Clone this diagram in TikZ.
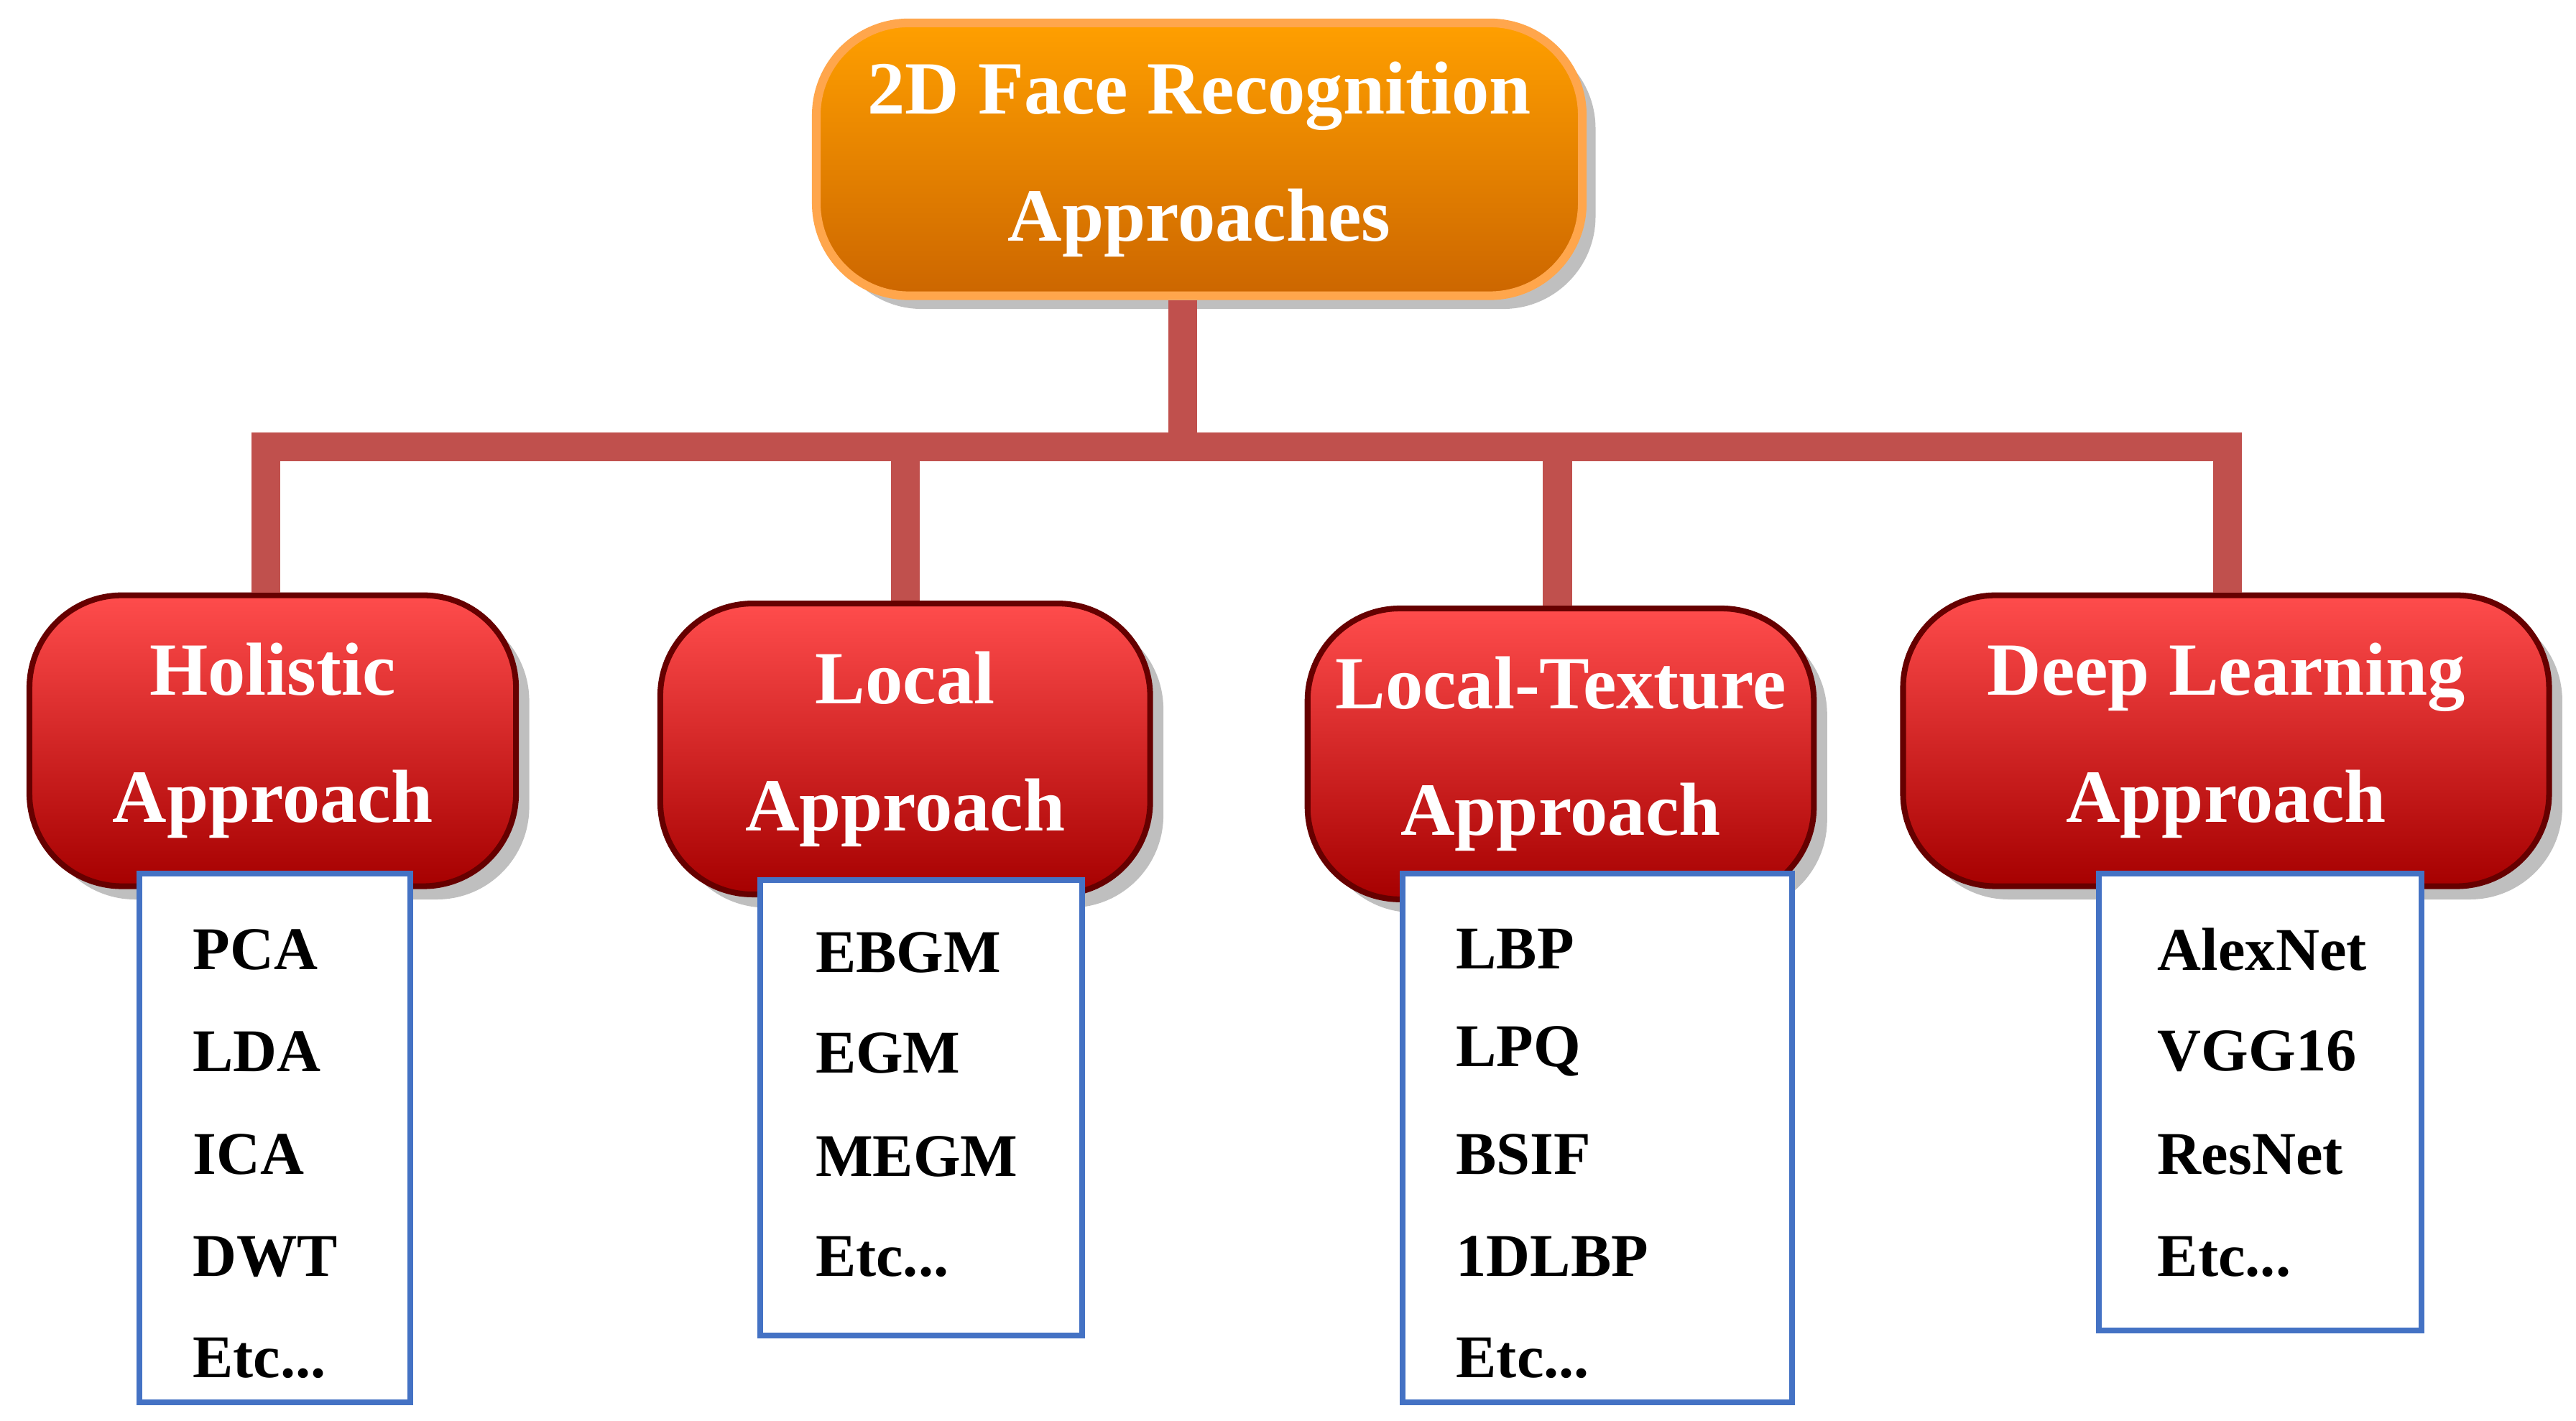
\documentclass[tikz,border=0pt]{standalone}
\usepackage{fontspec}
\setmainfont{Liberation Serif}
\usetikzlibrary{shadows}
\definecolor{barred}{RGB}{192,80,77}
\definecolor{listblue}{RGB}{68,114,196}
\begin{document}
\begin{tikzpicture}[x=0.01cm,y=-0.01cm,font=\bfseries]
\tikzstyle{root}=[draw=orange!70!white,line width=1.5pt,rounded corners=16pt,top color=orange!75!yellow,bottom color=orange!80!black,text=white,align=center,font=\bfseries\fontsize{13}{22}\selectfont,drop shadow]
\tikzstyle{branch}=[draw=red!40!black,line width=1pt,rounded corners=16pt,top color=red!70!white,bottom color=red!65!black,text=white,align=center,font=\bfseries\fontsize{13}{22}\selectfont,drop shadow]
\tikzstyle{list}=[draw=listblue,line width=1pt,fill=white,anchor=north west]
\tikzstyle{item}=[anchor=west,font=\bfseries\fontsize{10.5}{12}\selectfont]
\tikzstyle{bar}=[draw=barred,line width=5pt]
\useasboundingbox (0,0) rectangle (1568,865);
% root and branches
\node[root,minimum width=4.66cm,minimum height=1.66cm] (R) at (730,97) {2D Face Recognition\\Approaches};
\coordinate (J) at (720,272);
\coordinate (J1) at (162,272);
\coordinate (J2) at (551,272);
\coordinate (J3) at (948,272);
\coordinate (J4) at (1356,272);
\node[branch,minimum width=2.96cm,minimum height=1.77cm] (H) at (166,451) {Holistic\\Approach};
\node[branch,minimum width=2.98cm,minimum height=1.77cm] (L) at (551,456) {Local\\Approach};
\node[branch,minimum width=3.08cm,minimum height=1.77cm] (T) at (950,459) {Local-Texture\\Approach};
\node[branch,minimum width=3.93cm,minimum height=1.77cm] (D) at (1355,451) {Deep Learning\\Approach};
\draw[bar] (R.south -| J) -- (J);
\draw[bar] (J1 |- H.north) -- (J1) -- (J4) -- (J4 |- D.north);
\draw[bar] (J2) -- (J2 |- L.north);
\draw[bar] (J3) -- (J3 |- T.north);
% method lists
\node[list,minimum width=1.65cm,minimum height=3.22cm] (HL) at (83,530) {};
\node[list,minimum width=1.96cm,minimum height=2.77cm] (LL) at (461,534) {};
\node[list,minimum width=2.37cm,minimum height=3.22cm] (TL) at (852,530) {};
\node[list,minimum width=1.96cm,minimum height=2.78cm] (DL) at (1276,530) {};
\node[item] (h1) at (105,578) {PCA};
\node[item] (h2) at (105,640) {LDA};
\node[item] (h3) at (105,703) {ICA};
\node[item] (h4) at (105,765) {DWT};
\node[item] (h5) at (105,827) {Etc...};
\node[item] (l1) at (484,580) {EBGM};
\node[item] (l2) at (484,641) {EGM};
\node[item] (l3) at (484,704) {MEGM};
\node[item] (l4) at (484,765) {Etc...};
\node[item] (t1) at (874,578) {LBP};
\node[item] (t2) at (874,640) {LPQ};
\node[item] (t3) at (874,703) {BSIF};
\node[item] (t4) at (874,765) {1DLBP};
\node[item] (t5) at (874,827) {Etc...};
\node[item] (d1) at (1301,578) {AlexNet};
\node[item] (d2) at (1301,640) {VGG16};
\node[item] (d3) at (1301,703) {ResNet};
\node[item] (d4) at (1301,765) {Etc...};
\end{tikzpicture}
\end{document}
